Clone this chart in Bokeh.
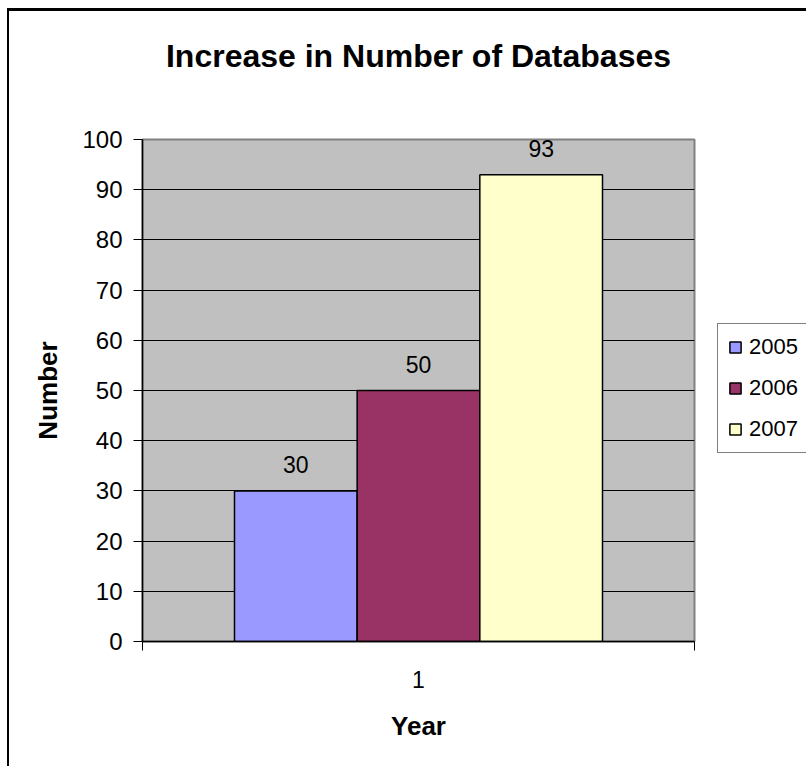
from bokeh.plotting import figure
from bokeh.models import (ColumnDataSource, Range1d, FixedTicker, Legend, LegendItem,
                          LinearAxis)
from bokeh.core.properties import value
from bokeh.embed import file_html
from bokeh.resources import INLINE

# ---- data ----
title_text = "Increase in Number of Databases"
category = [1]
years = ["2005", "2006", "2007"]
counts = [30, 50, 93]
colors = ["#9999FF", "#993366", "#FFFFCC"]
y_ticks = [0, 10, 20, 30, 40, 50, 60, 70, 80, 90, 100]

FONT = "Liberation Sans"

# bar geometry: 3 bars per category, gap width 150% (Excel style)
n = len(years)
bar_w = 1.0 / (n + 1.5)
xs = [category[0] + (i - (n - 1) / 2) * bar_w for i in range(n)]

src = ColumnDataSource(dict(x=xs, top=counts, year=years, color=colors,
                            label=[str(v) for v in counts]))

p = figure(output_backend="svg", toolbar_location=None,
           frame_width=552, frame_height=502,
           min_border_left=133, min_border_top=128,
           min_border_right=112, min_border_bottom=125,
           x_range=Range1d(category[0] - 0.5, category[0] + 0.5),
           y_range=Range1d(0, 100))

p.styles = {"margin-left": "7px", "margin-top": "8px",
            "border-left": "2px solid black", "border-top": "3px solid black"}

p.background_fill_color = "#C0C0C0"
p.border_fill_color = "white"
p.outline_line_color = "#808080"
p.outline_line_width = 2

r = p.vbar(x="x", top="top", width=bar_w, bottom=0, source=src,
           fill_color="color", line_color="black", line_width=1.5)

p.text(x="x", y="top", text="label", source=src, text_align="center",
       text_baseline="middle", y_offset=-26, text_font=value(FONT),
       text_font_size="23px", text_color="black")

xa = p.below[0]
ya = p.left[0]

# title, drawn as the label of a bare axis above the plot area
title_axis = LinearAxis(ticker=FixedTicker(ticks=[]), axis_label=title_text)
title_axis.axis_line_color = None
title_axis.major_tick_line_color = None
title_axis.minor_tick_line_color = None
title_axis.major_tick_out = 0
title_axis.major_tick_in = 0
title_axis.minor_tick_out = 0
title_axis.minor_tick_in = 0
title_axis.major_label_standoff = 0
title_axis.axis_label_standoff = 66
title_axis.axis_label_text_font = FONT
title_axis.axis_label_text_font_size = "32px"
title_axis.axis_label_text_font_style = "bold"
title_axis.axis_label_text_color = "black"
p.add_layout(title_axis, "above")

# grid
p.xgrid.grid_line_color = None
p.ygrid.grid_line_color = "black"
p.ygrid.grid_line_width = 1
p.ygrid.ticker = FixedTicker(ticks=y_ticks)

# y axis
ya.ticker = FixedTicker(ticks=y_ticks)
ya.axis_line_color = "black"
ya.axis_line_width = 1.5
ya.major_tick_out = 9
ya.major_tick_in = 0
ya.minor_tick_line_color = None
ya.major_label_standoff = 11
ya.major_label_text_font = FONT
ya.major_label_text_font_size = "24px"
ya.major_label_text_color = "black"
ya.axis_label = "Number"
ya.axis_label_text_font = FONT
ya.axis_label_text_font_size = "26px"
ya.axis_label_text_font_style = "bold"
ya.axis_label_text_color = "black"
ya.axis_label_standoff = 16

# x axis: label at category centre, ticks at category boundaries
xa.ticker = FixedTicker(ticks=category,
                        minor_ticks=[category[0] - 0.5, category[0] + 0.5])
xa.axis_line_color = "black"
xa.axis_line_width = 1.5
xa.major_tick_out = 0
xa.major_tick_in = 0
xa.minor_tick_out = 9
xa.minor_tick_in = 0
xa.minor_tick_line_color = "black"
xa.major_label_standoff = 20
xa.major_label_text_font = FONT
xa.major_label_text_font_size = "23px"
xa.major_label_text_color = "black"
xa.axis_label = "Year"
xa.axis_label_text_font = FONT
xa.axis_label_text_font_size = "26px"
xa.axis_label_text_font_style = "bold"
xa.axis_label_text_color = "black"
xa.axis_label_standoff = 20

# legend (in the right side panel, partly running off the page edge)
legend = Legend(items=[LegendItem(label=value(y), renderers=[r], index=i)
                       for i, y in enumerate(years)],
                location=(23, 188))
legend.border_line_color = "black"
legend.border_line_width = 1
legend.background_fill_color = "white"
legend.background_fill_alpha = 1
legend.label_text_font = FONT
legend.label_text_font_size = "22px"
legend.label_text_color = "black"
legend.label_height = 22
legend.glyph_width = 14
legend.glyph_height = 14
legend.spacing = 15
legend.padding = 10
legend.margin = 0
legend.label_standoff = 7
p.add_layout(legend, "right")

open("out.html", "w").write(file_html(p, INLINE))
